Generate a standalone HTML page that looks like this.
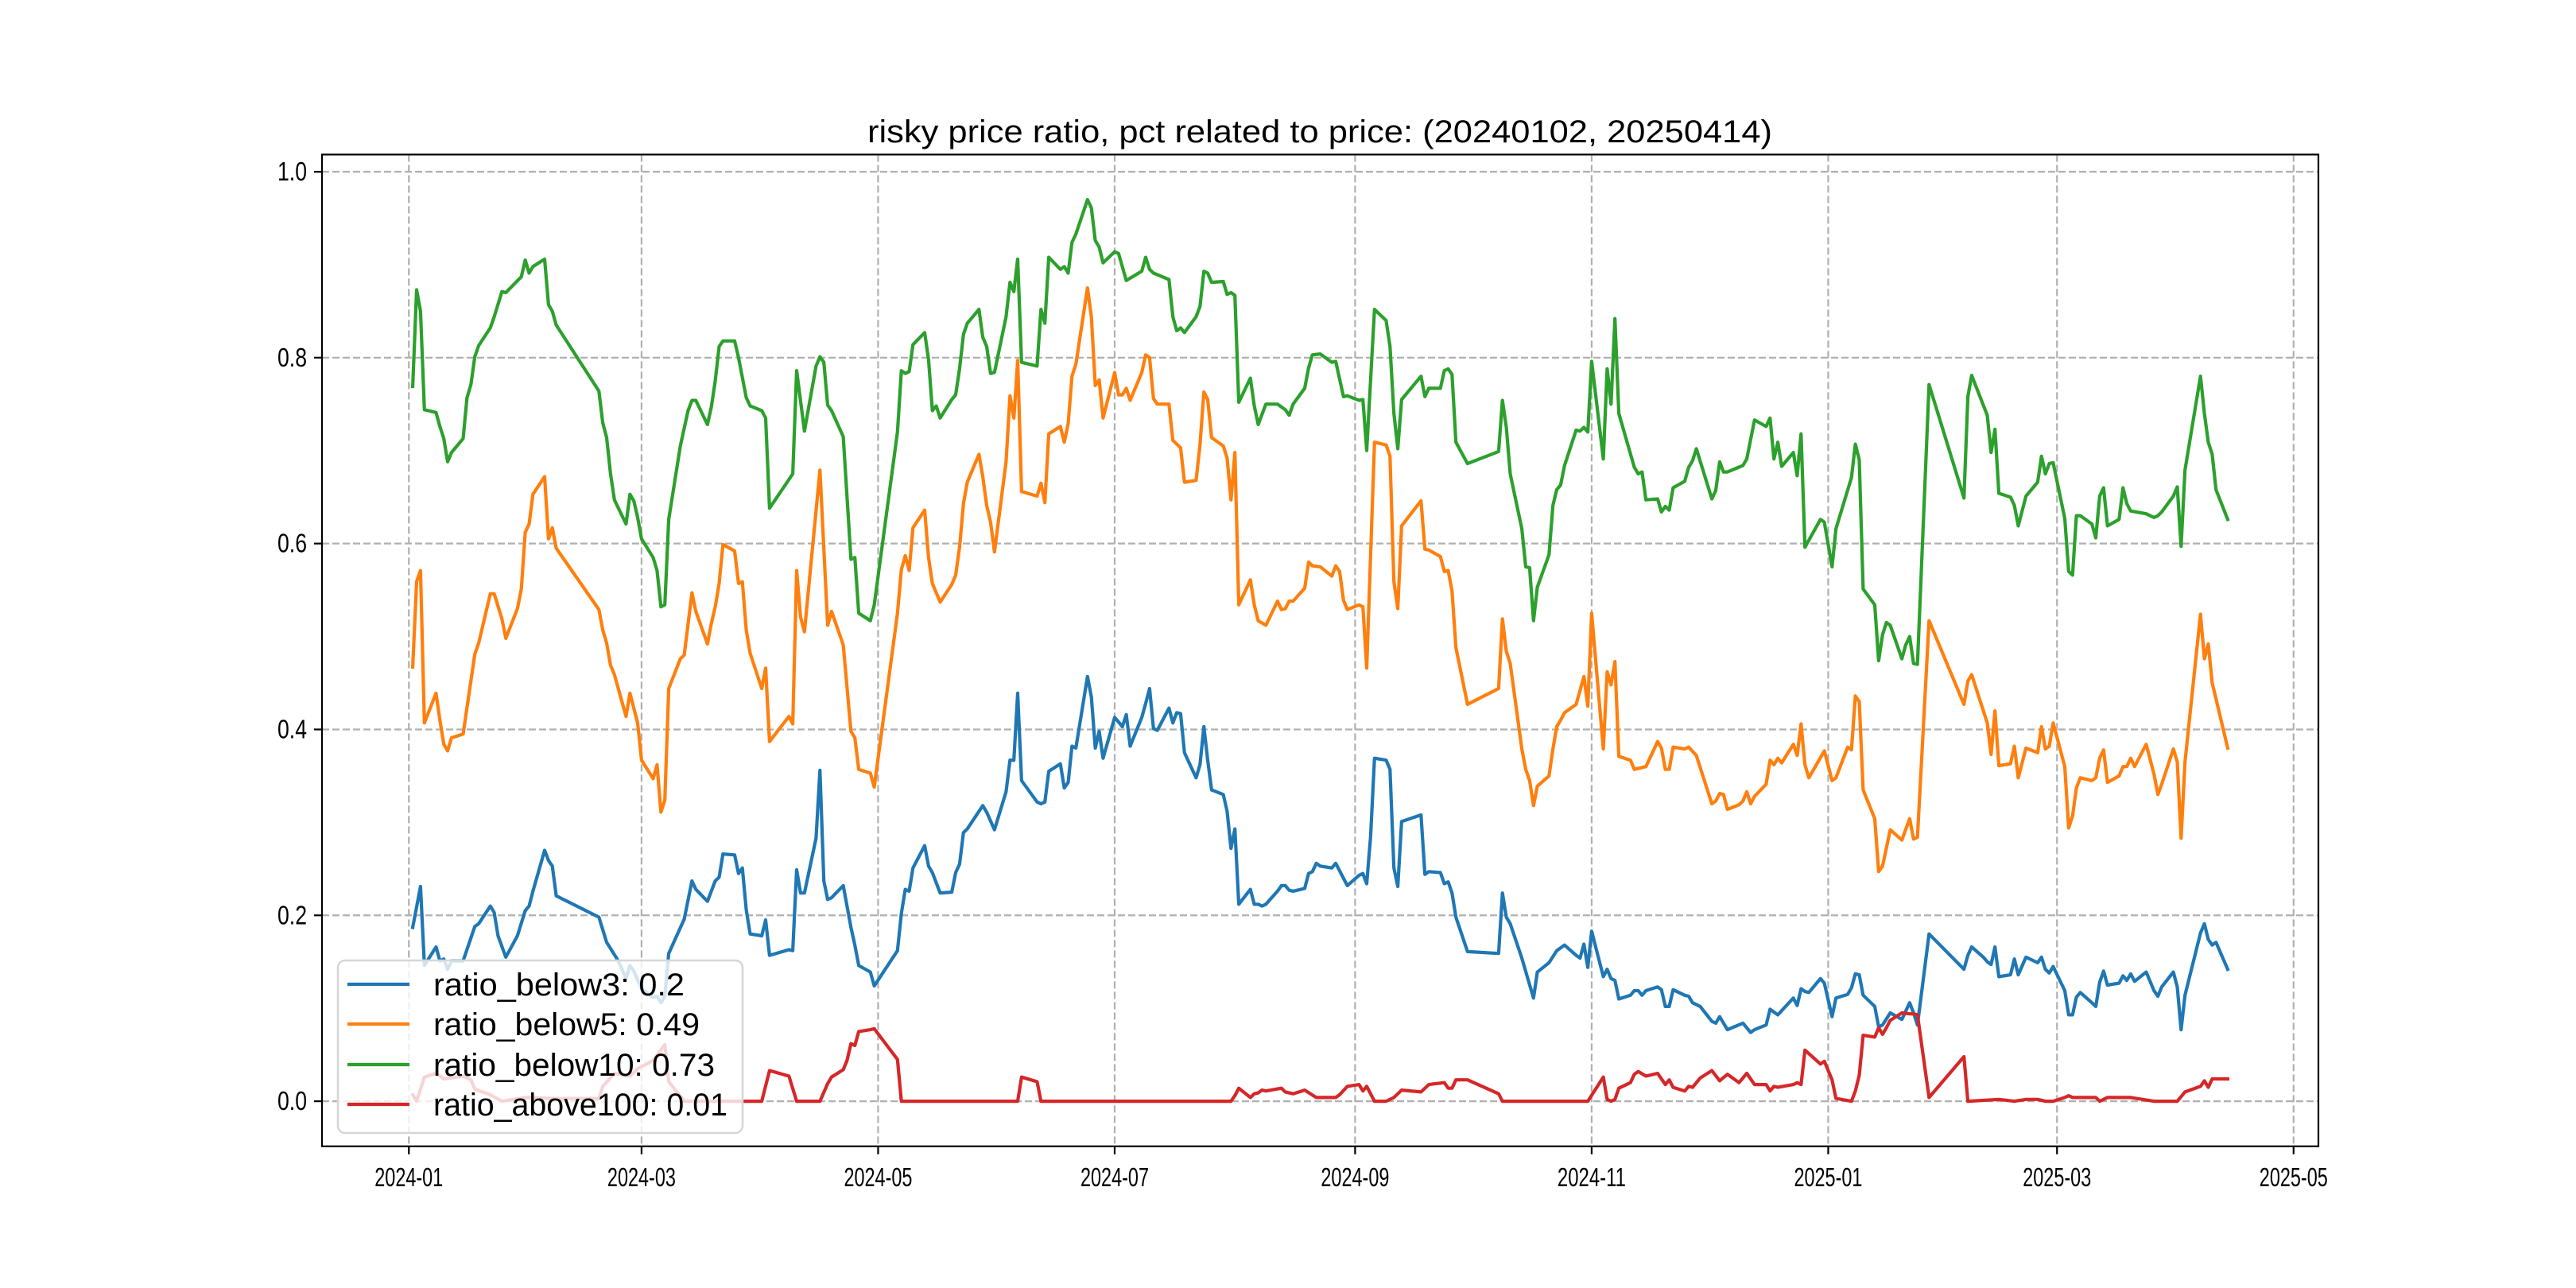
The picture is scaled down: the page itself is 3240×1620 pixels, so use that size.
<!DOCTYPE html>
<html><head><meta charset="utf-8"><style>html,body{margin:0;padding:0;background:#fff}svg{display:block}</style></head>
<body>
<svg id="chart" width="3240" height="1620" viewBox="0 0 3240 1620" xmlns="http://www.w3.org/2000/svg" font-family="'WenQuanYi Zen Hei', 'Liberation Sans', sans-serif">
<rect x="0" y="0" width="3240" height="1620" fill="#fff"/>
<text x="1660" y="179" text-anchor="middle" font-size="40" textLength="1138" lengthAdjust="spacingAndGlyphs">risky price ratio, pct related to price: (20240102, 20250414)</text>
<g id="grid"></g>
<g id="series"></g>
<rect x="405" y="194.4" width="2511" height="1247.4" fill="none" stroke="#000" stroke-width="2.2"/>
<g id="axes"></g>
<g id="legend"></g>
</svg>
<script>
// days since 2024-01-01
const xTickLabels = ["2024-01","2024-03","2024-05","2024-07","2024-09","2024-11","2025-01","2025-03","2025-05"];
const xTickDays = [0,60,121,182,244,305,366,425,486];
const yTicks = [0.0,0.2,0.4,0.6,0.8,1.0];
const yTickLabels = ["0.0","0.2","0.4","0.6","0.8","1.0"];
const seriesNames = ["ratio_below3: 0.2","ratio_below5: 0.49","ratio_below10: 0.73","ratio_above100: 0.01"];

const below3Days = [1,3,4,7,8,9,10,11,14,17,18,21,22,23,25,28,30,31,32,35,36,37,38,49,51,54,56,57,58,60,63,64,65,66,67,71,73,74,77,79,80,81,84,85,86,87,88,91,92,93,98,99,100,101,102,105,106,107,108,
109,112,114,115,116,119,120,126,127,128,129,130,133,134,135,137,140,141,142,143,144,148,149,151,154,155,156,157,158,162,163,164,165,168,169,170,171,172,175,176,177,178,179,182,183,184,185,186,189,190,191,192,193,196,197,198,199,200,203,204,205,206,207,210,211,212,213,214,217,218,219,220,221,224,225,226,227,228,231,232,233,234,235,238,
239,242,245,246,247,248,249,252,253,254,255,256,261,262,263,266,267,268,269,270,273,281,282,283,284,287,290,291,294,296,298,301,302,303,304,305,308,309,310,311,312,315,316,317,318,319,322,323,324,325,326,329,330,331,333,336,337,338,340,344,346,347,350,351,352,353,357,358,359,360,361,364,365,367,
368,371,372,373,374,375,378,379,380,382,385,387,388,389,392,401,402,403,406,407,408,409,410,413,414,415,417,420,421,422,423,424,427,428,429,430,431,434,435,436,437,438,441,442,443,444,445,448,450,451,452,455,456,457,458,462,463,464,465,466,469];
const below3Vals = [.187,.231,.146,.166,.151,.153,.142,.151,.151,.188,.191,.210,.203,.178,.155,.178,.205,.210,.226,.270,.259,.253,.221,.198,.171,.151,.132,.146,.140,.121,.112,.113,.106,.113,.159,.196,.237,.228,.215,.237,.241,.266,.265,.245,.251,.206,.180,.178,.195,.157,.163,.162,.249,.224,.224,.283,.356,.237,.217,
.219,.232,.187,.168,.146,.139,.124,.162,.202,.228,.226,.251,.275,.253,.246,.224,.225,.246,.255,.289,.293,.318,.311,.292,.333,.367,.367,.439,.345,.322,.320,.322,.355,.363,.337,.343,.382,.380,.457,.435,.380,.398,.369,.413,.408,.403,.416,.382,.413,.428,.444,.401,.399,.423,.407,.418,.417,.375,.348,.362,.403,.367,.335,.330,.312,.272,.293,.212,.228,.212,.212,.210,.212,.226,.232,.232,.227,.226,.229,.245,.247,.256,.253,.251,
.256,.232,.243,.245,.234,.285,.369,.367,.357,.251,.231,.301,.308,.244,.247,.246,.234,.236,.224,.198,.161,.159,.224,.198,.191,.154,.111,.139,.149,.162,.168,.157,.154,.169,.144,.183,.134,.142,.132,.130,.110,.114,.119,.119,.114,.119,.123,.120,.102,.102,.120,.114,.113,.106,.102,.086,.084,.091,.077,.084,.074,.077,.082,.099,.096,.093,.111,.103,.121,.118,.117,.132,.127,.091,
.111,.115,.122,.137,.136,.114,.102,.080,.082,.095,.088,.106,.095,.082,.180,.142,.157,.166,.155,.150,.147,.166,.134,.136,.153,.136,.155,.149,.155,.142,.138,.145,.119,.093,.093,.112,.117,.106,.102,.128,.140,.125,.127,.135,.130,.137,.129,.139,.119,.113,.123,.139,.123,.077,.114,.181,.191,.174,.168,.171,.142];

const below5Days = [1,2,3,4,7,8,9,10,11,14,17,18,21,22,24,25,28,29,30,31,32,35,36,37,38,49,50,51,52,53,56,57,59,60,63,64,65,66,67,70,71,73,74,77,78,79,80,81,84,85,86,87,88,91,92,93,98,99,100,101,102,106,108,
109,112,114,115,116,119,120,126,127,128,129,130,133,134,135,137,140,141,142,143,144,147,148,149,150,151,154,155,156,157,158,162,163,164,165,168,169,170,171,172,175,176,177,178,179,182,183,184,185,186,189,190,191,192,193,196,197,199,200,203,204,205,206,207,210,211,212,213,214,217,218,219,221,224,225,226,227,228,231,232,233,235,238,
239,240,241,242,245,246,247,249,252,253,254,255,256,261,262,263,266,267,268,269,270,273,281,282,283,284,287,288,289,290,291,294,295,296,297,298,301,302,303,304,305,308,309,310,311,312,315,316,319,322,323,324,325,326,329,330,332,336,337,338,339,340,343,344,345,346,347,350,351,352,353,354,357,358,359,360,361,365,367,
368,371,372,373,374,375,378,379,380,382,385,387,388,389,392,401,402,403,407,408,409,410,413,414,415,417,420,421,422,423,424,427,428,429,430,431,434,435,436,437,438,441,442,443,444,445,448,450,451,452,455,456,457,458,462,463,464,465,466,469];
const below5Vals = [.467,.559,.571,.407,.439,.410,.384,.377,.391,.395,.481,.493,.546,.546,.519,.498,.530,.551,.612,.621,.653,.672,.605,.617,.595,.529,.507,.493,.469,.459,.414,.439,.407,.367,.347,.362,.311,.324,.444,.476,.480,.547,.527,.492,.514,.532,.557,.599,.592,.557,.559,.507,.482,.444,.466,.387,.414,.406,.571,.521,.505,.679,.512,
.527,.491,.398,.391,.357,.353,.338,.525,.572,.587,.571,.617,.636,.585,.557,.537,.556,.566,.596,.643,.666,.696,.672,.641,.623,.591,.688,.759,.735,.797,.656,.651,.665,.644,.718,.726,.709,.729,.780,.793,.875,.844,.770,.776,.735,.784,.760,.760,.767,.754,.784,.803,.800,.756,.750,.750,.711,.703,.666,.668,.706,.763,.755,.714,.705,.692,.647,.698,.534,.561,.534,.517,.512,.538,.529,.530,.538,.538,.552,.580,.576,.575,.565,
.576,.570,.539,.529,.534,.532,.466,.709,.706,.694,.559,.530,.619,.646,.594,.593,.586,.570,.571,.549,.488,.427,.444,.519,.484,.471,.379,.357,.345,.318,.339,.350,.379,.403,.410,.418,.427,.442,.457,.425,.525,.379,.462,.448,.473,.371,.367,.357,.360,.387,.380,.357,.357,.381,.379,.381,.372,.320,.323,.331,.330,.314,.319,.323,.333,.320,.328,.341,.367,.362,.369,.364,.384,.372,.406,.362,.348,.377,.345,
.348,.381,.378,.436,.430,.335,.304,.247,.253,.292,.281,.304,.282,.284,.517,.427,.452,.459,.407,.373,.420,.361,.363,.382,.348,.380,.375,.403,.379,.382,.407,.360,.294,.307,.337,.348,.345,.348,.369,.378,.343,.350,.360,.360,.369,.360,.384,.352,.330,.341,.379,.365,.283,.365,.524,.476,.492,.450,.433,.380];

const below10Days = [1,2,3,4,7,8,9,10,11,14,15,16,17,18,21,22,24,25,29,30,31,32,35,36,37,38,49,50,51,52,53,56,57,58,59,60,63,64,65,66,67,70,72,73,74,77,78,79,80,81,84,85,87,88,91,92,93,99,100,102,105,106,107,108,
109,112,114,115,116,119,120,126,127,128,129,130,133,134,135,136,137,140,141,142,143,144,147,148,149,150,151,154,155,156,157,158,162,163,164,165,168,169,170,171,172,175,176,177,178,179,182,183,185,189,190,191,192,196,197,198,199,200,203,204,205,206,207,210,211,212,213,214,217,218,219,221,224,226,227,228,231,232,233,235,238,
239,241,242,245,246,247,249,252,253,254,255,256,261,262,263,266,267,268,269,270,273,281,282,283,284,287,288,289,290,291,294,295,296,297,298,301,302,303,304,305,308,309,310,311,312,316,317,318,319,322,323,324,325,326,329,330,331,332,336,337,338,339,340,344,345,347,350,351,352,353,354,357,358,359,360,364,365,367,
368,372,373,374,375,378,379,380,381,382,385,386,387,388,389,392,401,402,403,407,408,409,410,413,414,415,417,420,421,422,423,424,427,428,429,430,431,434,435,436,437,438,441,442,443,444,448,450,451,452,455,456,457,458,462,463,464,465,466,469];
const below10Vals = [.769,.873,.850,.744,.741,.726,.713,.688,.698,.713,.757,.771,.801,.813,.832,.844,.871,.870,.887,.905,.891,.898,.906,.857,.850,.835,.764,.730,.714,.675,.647,.621,.653,.646,.628,.605,.585,.571,.532,.534,.626,.705,.743,.754,.754,.728,.747,.775,.812,.818,.818,.800,.757,.748,.743,.735,.638,.675,.786,.721,.791,.801,.795,.749,
.743,.715,.583,.585,.525,.517,.534,.720,.786,.783,.785,.814,.827,.798,.743,.748,.735,.755,.760,.788,.825,.837,.852,.822,.812,.783,.784,.844,.881,.871,.906,.795,.791,.852,.837,.908,.895,.898,.891,.924,.933,.970,.961,.926,.919,.902,.914,.912,.883,.893,.908,.895,.891,.884,.844,.829,.832,.827,.844,.855,.893,.891,.881,.882,.868,.870,.867,.752,.778,.748,.728,.750,.750,.744,.738,.750,.767,.789,.803,.804,.795,
.796,.758,.759,.754,.755,.700,.852,.840,.812,.740,.702,.755,.780,.758,.767,.767,.786,.788,.782,.709,.686,.699,.754,.725,.675,.616,.575,.574,.517,.553,.588,.641,.658,.663,.684,.722,.721,.725,.720,.796,.691,.788,.750,.842,.740,.682,.675,.677,.647,.648,.634,.640,.636,.660,.667,.682,.689,.702,.648,.657,.688,.677,.677,.684,.691,.733,.726,.735,.691,.709,.683,.698,.673,.718,.596,.626,.623,.575,
.616,.671,.707,.690,.551,.534,.474,.502,.515,.512,.476,.491,.500,.471,.470,.771,.649,.758,.781,.738,.698,.723,.654,.650,.641,.619,.651,.666,.694,.675,.686,.687,.627,.570,.566,.630,.630,.621,.606,.651,.660,.619,.626,.660,.643,.635,.632,.628,.630,.634,.651,.661,.597,.679,.780,.740,.709,.696,.658,.626];

const above100Days = [1,2,4,7,9,14,16,17,21,24,30,37,49,50,53,57,59,63,66,67,71,91,93,98,100,106,
108,109,112,113,114,115,116,119,120,126,127,157,158,162,163,212,213,214,217,218,219,220,221,225,226,228,231,234,238,
239,240,242,245,246,247,249,252,254,256,261,263,267,268,269,270,273,281,282,304,308,309,310,311,312,315,316,317,319,322,324,325,326,329,330,331,333,336,338,340,343,345,347,350,351,352,353,357,358,359,360,364,365,367,
368,372,373,374,375,378,379,380,381,382,385,387,388,389,392,401,402,410,414,417,420,422,424,427,428,429,435,436,438,444,450,456,458,462,463,464,465,469];
const above100Vals = [.007,0,.026,.03,.024,.027,.023,.013,.007,0,.004,.003,.003,.016,.03,.027,.035,.044,.061,.021,0,0,.033,.027,0,0,
.019,.026,.034,.044,.062,.060,.075,.077,.078,.045,0,0,.026,.021,0,0,.006,.014,.004,.008,.009,.012,.011,.014,.010,.008,.012,.004,.004,
.004,.007,.016,.018,.011,.016,0,0,.004,.012,.010,.018,.020,.014,.014,.023,.023,.008,0,0,.026,.002,0,.002,.014,.020,.029,.032,.027,.030,.018,.023,.015,.011,.016,.015,.025,.033,.022,.029,.020,.030,.018,.018,.011,.016,.015,.018,.020,.018,.055,.040,.043,.023,
.003,0,.011,.028,.071,.069,.079,.072,.079,.087,.095,.094,.094,.093,.004,.048,0,.002,0,.002,.002,0,0,.004,.006,.004,.004,0,.004,.004,0,0,.010,.016,.022,.015,.024,.024];

const NS = "http://www.w3.org/2000/svg";
const L = 405, R = 2916, T = 194.4, B = 1441.8;
const X0 = -22.4, X1 = 492.4, Y0 = -0.0485, Y1 = 1.0185;
function xs(d){ return L + (d - X0) / (X1 - X0) * (R - L); }
function ys(v){ return B - (v - Y0) / (Y1 - Y0) * (B - T); }
function mk(tag, attrs, parent){ const e = document.createElementNS(NS, tag); for (const k in attrs) e.setAttribute(k, attrs[k]); parent.appendChild(e); return e; }

const grid = document.getElementById('grid');
const axes = document.getElementById('axes');
xTickDays.forEach((d, i) => {
  const x = xs(d);
  const g = mk('line', {x1:x, x2:x, y1:T, y2:B, stroke:'#b0b0b0', 'stroke-width':2.2, 'stroke-dasharray':'9,4'}, grid);
  
  
  const t = mk('line', {x1:x, x2:x, y1:B, y2:B+10, stroke:'#000', 'stroke-width':2.2}, axes);
  
  
  const lb = mk('text', {x:x, y:1492, 'text-anchor':'middle', 'font-size':33, textLength:86, lengthAdjust:'spacingAndGlyphs'}, axes);
  lb.textContent = xTickLabels[i];
  
  
});
yTicks.forEach((v, i) => {
  const y = ys(v);
  const g = mk('line', {x1:L, x2:R, y1:y, y2:y, stroke:'#b0b0b0', 'stroke-width':2.2, 'stroke-dasharray':'9,4'}, grid);
  
  
  const t = mk('line', {x1:L-10, x2:L, y1:y, y2:y, stroke:'#000', 'stroke-width':2.2}, axes);
  
  
  const lb = mk('text', {x:386, y:y+11, 'text-anchor':'end', 'font-size':33, textLength:37, lengthAdjust:'spacingAndGlyphs'}, axes);
  lb.textContent = yTickLabels[i];
  
  
});

const colors = ['#1f77b4','#ff7f0e','#2ca02c','#d62728'];
const allDays = [below3Days, below5Days, below10Days, above100Days];
const allVals = [below3Vals, below5Vals, below10Vals, above100Vals];
const lineNames = ['line-ratio-below3','line-ratio-below5','line-ratio-below10','line-ratio-above100'];
const seriesG = document.getElementById('series');
allDays.forEach((days, s) => {
  const vals = allVals[s];
  const n = Math.min(days.length, vals.length);
  let d = '';
  for (let i = 0; i < n; i++) d += (i ? 'L' : 'M') + xs(days[i]).toFixed(1) + ',' + ys(vals[i]).toFixed(1);
  const p = mk('path', {d:d, fill:'none', stroke:colors[s], 'stroke-width':4.2, 'stroke-linejoin':'round', 'stroke-linecap':'square'}, seriesG);
  
  
});

const lg = document.getElementById('legend');
const box = mk('rect', {x:425, y:1208, width:509, height:217, rx:9, fill:'rgba(255,255,255,0.8)', stroke:'#d6d6d6', 'stroke-width':2.5}, lg);


const entryY = [1238, 1288, 1339, 1389];
const entryW = [316, 335, 354, 370];
seriesNames.forEach((name, i) => {
  const ln = mk('line', {x1:437, x2:515, y1:entryY[i], y2:entryY[i], stroke:colors[i], 'stroke-width':4.2}, lg);
  
  
  const tx = mk('text', {x:545, y:entryY[i]+14, 'font-size':40, textLength:entryW[i], lengthAdjust:'spacingAndGlyphs'}, lg);
  tx.textContent = name;
  
  
});
</script>
</body></html>
